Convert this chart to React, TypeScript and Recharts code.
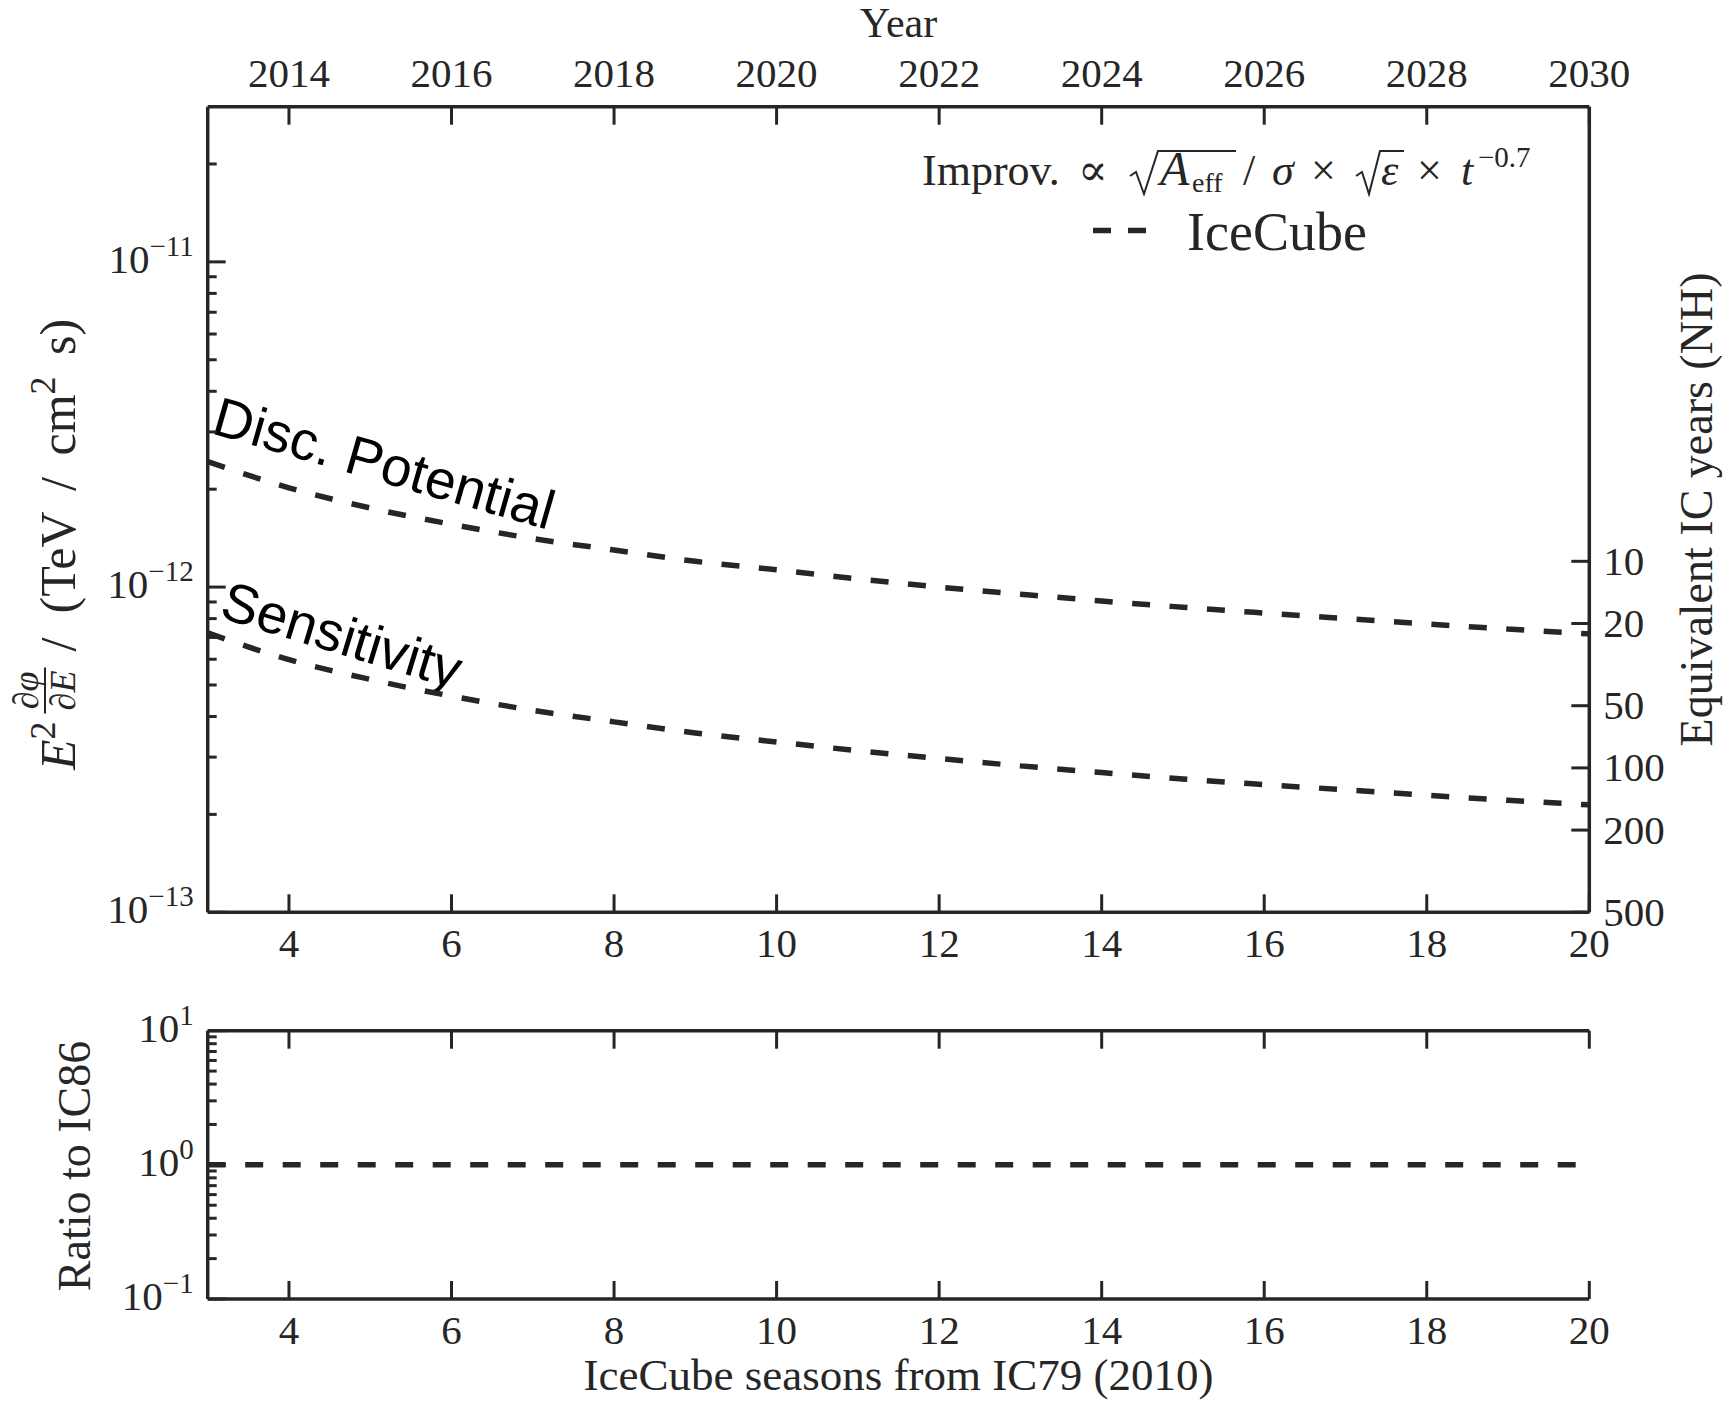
import { LineChart, Line, XAxis, YAxis } from 'recharts'

// IceCube seasons counted from IC79 (2010)
const seasons = [3, 4, 5, 6, 7, 8, 9, 10, 11, 12, 13, 14, 15, 16, 17, 18, 19, 20]
// E^2 dphi/dE in TeV / cm^2 s
const discPotential = [
  2.43e-12, 2.02e-12, 1.75e-12, 1.56e-12, 1.41e-12, 1.3e-12, 1.2e-12, 1.13e-12, 1.06e-12,
  1.0e-12, 9.51e-13, 9.06e-13, 8.67e-13, 8.32e-13, 8.0e-13, 7.7e-13, 7.43e-13, 7.18e-13,
]
const sensitivity = [
  7.23e-13, 5.98e-13, 5.2e-13, 4.62e-13, 4.18e-13, 3.85e-13, 3.56e-13, 3.34e-13, 3.14e-13,
  2.97e-13, 2.82e-13, 2.69e-13, 2.57e-13, 2.47e-13, 2.38e-13, 2.29e-13, 2.21e-13, 2.14e-13,
]
const ratioToIC86 = [1, 1, 1, 1, 1, 1, 1, 1, 1, 1, 1, 1, 1, 1, 1, 1, 1, 1]

const seasonTicks = [4, 6, 8, 10, 12, 14, 16, 18, 20]
const seasonLabels = ['4', '6', '8', '10', '12', '14', '16', '18', '20']
const yearLabels = ['2014', '2016', '2018', '2020', '2022', '2024', '2026', '2028', '2030']
const fluxDecades = [1e-13, 1e-12, 1e-11]
const fluxExponents = ['−13', '−12', '−11']
const ratioDecades = [0.1, 1, 10]
const ratioExponents = ['−1', '0', '1']
const icYearTicks = [10, 20, 50, 100, 200, 500]
const icYearLabels = ['10', '20', '50', '100', '200', '500']
const minorSteps = [2, 3, 4, 5, 6, 7, 8, 9]

const fluxTicks = [
  ...fluxDecades,
  ...fluxDecades.flatMap((d) => minorSteps.map((m) => m * d)).filter((v) => v < 2.5e-11),
]
const ratioTicks = [...ratioDecades, ...[0.1, 1].flatMap((d) => minorSteps.map((m) => m * d))]

const fluxData = seasons.map((season, i) => ({ season, disc: discPotential[i], sens: sensitivity[i] }))
const ratioData = seasons.map((season, i) => ({ season, ratio: ratioToIC86[i] }))

const INK = '#262626'
const SERIF = '"Liberation Serif", "DejaVu Serif", serif'
const SANS = '"Liberation Sans", Arial, sans-serif'
const spine = { stroke: INK, strokeWidth: 3.5 }
const dashed = { stroke: INK, strokeWidth: 5.5, strokeDasharray: '18 19.5' }

type TickProps = { x: number; y: number; payload: { value: number } }

const decadeIndex = (decades: number[], v: number) =>
  decades.findIndex((d) => Math.abs(v / d - 1) < 1e-6)

// inward log ticks, long on decades; optional 10^n label outside
function logTick(decades: number[], exps: string[] | null, side: 'left' | 'right') {
  return ({ x, y, payload }: TickProps) => {
    const i = decadeIndex(decades, payload.value)
    const dir = side === 'left' ? 1 : -1
    return (
      <g>
        <line x1={x} y1={y} x2={x + dir * (i >= 0 ? 18 : 9)} y2={y} stroke={INK} strokeWidth={3} />
        {exps && i >= 0 && (
          <text x={x - 14} y={y + 11} textAnchor="end" fontFamily={SERIF} fontSize={41} fill={INK}>
            10
            <tspan fontSize={29} dy={-17}>
              {exps[i]}
            </tspan>
          </text>
        )}
      </g>
    )
  }
}

function seasonTick(side: 'top' | 'bottom', labels: string[] | null) {
  return ({ x, y, payload }: TickProps) => {
    const i = seasonTicks.indexOf(payload.value)
    const dir = side === 'bottom' ? -1 : 1
    return (
      <g>
        <line x1={x} y1={y} x2={x} y2={y + dir * 18} stroke={INK} strokeWidth={3} />
        {labels && (
          <text
            x={x}
            y={side === 'bottom' ? y + 45 : y - 20}
            textAnchor="middle"
            fontFamily={SERIF}
            fontSize={41}
            fill={INK}
          >
            {labels[i]}
          </text>
        )}
      </g>
    )
  }
}

function IcYearTick({ x, y, payload }: TickProps) {
  const i = icYearTicks.indexOf(payload.value)
  return (
    <g>
      <line x1={x} y1={y} x2={x - 18} y2={y} stroke={INK} strokeWidth={3} />
      <text x={x + 14} y={y + 13.5} fontFamily={SERIF} fontSize={41} fill={INK}>
        {icYearLabels[i]}
      </text>
    </g>
  )
}

function FluxAxisTitle() {
  // rotated frame: u runs up the page, v = 0 is the baseline
  return (
    <g transform="translate(75 513) rotate(-90)" fontFamily={SERIF} fill={INK}>
      <text x={-257} y={0} fontSize={50}>
        <tspan fontStyle="italic">E</tspan>
        <tspan fontSize={36} dy={-20}>
          2
        </tspan>
      </text>
      <text x={-177.5} y={-37} fontSize={36} textAnchor="middle">
        ∂<tspan fontStyle="italic">φ</tspan>
      </text>
      <line x1={-200.5} x2={-154.5} y1={-30} y2={-30} stroke={INK} strokeWidth={2} />
      <text x={-177.5} y={0} fontSize={36} textAnchor="middle">
        ∂<tspan fontStyle="italic">E</tspan>
      </text>
      <text x={-138.5} y={0} fontSize={50}>
        /
      </text>
      <text x={-100.5} y={0} fontSize={50} wordSpacing={9}>
        (TeV / cm
        <tspan fontSize={36} dy={-20}>
          2
        </tspan>
        <tspan dy={20}> s)</tspan>
      </text>
    </g>
  )
}

function LegendBlock() {
  return (
    <g fontFamily={SERIF} fill={INK}>
      <text y={185} fontSize={44}>
        <tspan x={922}>Improv.</tspan>
        <tspan x={1078}>∝</tspan>
        <tspan x={1160} fontSize={48} fontStyle="italic">
          A
        </tspan>
        <tspan x={1192} fontSize={28} dy={7}>
          eff
        </tspan>
        <tspan x={1243} dy={-7}>
          /
        </tspan>
        <tspan x={1272} fontStyle="italic">σ</tspan>
        <tspan x={1311}>×</tspan>
        <tspan x={1381} fontStyle="italic">ε</tspan>
        <tspan x={1417}>×</tspan>
        <tspan x={1461} fontStyle="italic">t</tspan>
        <tspan x={1478} fontSize={29} dy={-18}>
          −0.7
        </tspan>
      </text>
      <path d="M1130 176 L1136 172 L1144 194 L1158 151 L1236 151" fill="none" stroke={INK} strokeWidth={2} />
      <path d="M1356 176 L1362 172 L1369 194 L1380 151 L1404 151" fill="none" stroke={INK} strokeWidth={2} />
      <line x1={1093} x2={1147} y1={230.5} y2={230.5} stroke={INK} strokeWidth={5.5} strokeDasharray="18 17" />
      <text x={1187} y={250} fontSize={54}>
        IceCube
      </text>
    </g>
  )
}

export default function App() {
  return (
    <div style={{ position: 'absolute', left: 0, top: 0, width: 1725, height: 1409, background: '#fff' }}>
      <div style={{ position: 'absolute', left: 0, top: 0 }}>
        <LineChart width={1725} height={1000} data={fluxData} margin={{ top: 46.7, right: 15.7, bottom: 27.7, left: 87.7 }}>
          <XAxis
            xAxisId="seasons"
            dataKey="season"
            type="number"
            domain={[3, 20]}
            ticks={seasonTicks}
            interval={0}
            allowDataOverflow
            height={60}
            tickSize={0}
            tickMargin={0}
            tickLine={false}
            axisLine={spine}
            tick={seasonTick('bottom', seasonLabels)}
          />
          <XAxis
            xAxisId="years"
            orientation="top"
            dataKey="season"
            type="number"
            domain={[3, 20]}
            ticks={seasonTicks}
            interval={0}
            allowDataOverflow
            height={60}
            tickSize={0}
            tickMargin={0}
            tickLine={false}
            axisLine={spine}
            tick={seasonTick('top', yearLabels)}
          />
          <YAxis
            yAxisId="flux"
            scale="log"
            domain={[1e-13, 3e-11]}
            ticks={fluxTicks}
            interval={0}
            allowDataOverflow
            width={120}
            tickSize={0}
            tickMargin={0}
            tickLine={false}
            axisLine={spine}
            tick={logTick(fluxDecades, fluxExponents, 'left')}
          />
          <YAxis
            yAxisId="icYears"
            orientation="right"
            scale="log"
            domain={[0.063, 500]}
            reversed
            ticks={icYearTicks}
            interval={0}
            allowDataOverflow
            width={120}
            tickSize={0}
            tickMargin={0}
            tickLine={false}
            axisLine={spine}
            tick={IcYearTick}
          />
          <Line xAxisId="seasons" yAxisId="flux" dataKey="disc" type="monotone" {...dashed} dot={false} activeDot={false} isAnimationActive={false} />
          <Line xAxisId="seasons" yAxisId="flux" dataKey="sens" type="monotone" {...dashed} dot={false} activeDot={false} isAnimationActive={false} />

          <text x={898.5} y={37} textAnchor="middle" fontFamily={SERIF} fontSize={42} fill={INK}>
            Year
          </text>
          <FluxAxisTitle />
          <text transform="translate(1712 509.5) rotate(-90)" textAnchor="middle" fontFamily={SERIF} fontSize={46} fill={INK}>
            Equivalent IC years (NH)
          </text>
          <text x={210} y={433} transform="rotate(16 210 433)" fontFamily={SANS} fontSize={55} fill="#000">
            Disc. Potential
          </text>
          <text x={218} y={617} transform="rotate(17 218 617)" fontFamily={SANS} fontSize={55} fill="#000">
            Sensitivity
          </text>
          <LegendBlock />
        </LineChart>
      </div>

      <div style={{ position: 'absolute', left: 0, top: 1000 }}>
        <LineChart width={1725} height={409} data={ratioData} margin={{ top: 20.7, right: 135.7, bottom: 50, left: 87.7 }}>
          <XAxis
            xAxisId="seasons"
            dataKey="season"
            type="number"
            domain={[3, 20]}
            ticks={seasonTicks}
            interval={0}
            allowDataOverflow
            height={60}
            tickSize={0}
            tickMargin={0}
            tickLine={false}
            axisLine={spine}
            tick={seasonTick('bottom', seasonLabels)}
          />
          <XAxis
            xAxisId="mirror"
            orientation="top"
            dataKey="season"
            type="number"
            domain={[3, 20]}
            ticks={seasonTicks}
            interval={0}
            allowDataOverflow
            height={10}
            tickSize={0}
            tickMargin={0}
            tickLine={false}
            axisLine={spine}
            tick={seasonTick('top', null)}
          />
          <YAxis
            yAxisId="ratio"
            scale="log"
            domain={[0.1, 10]}
            ticks={ratioTicks}
            interval={0}
            allowDataOverflow
            width={120}
            tickSize={0}
            tickMargin={0}
            tickLine={false}
            axisLine={spine}
            tick={logTick(ratioDecades, ratioExponents, 'left')}
          />
          <YAxis
            yAxisId="ratioMirror"
            orientation="right"
            scale="log"
            domain={[0.1, 10]}
            ticks={ratioTicks}
            interval={0}
            allowDataOverflow
            width={0}
            tickSize={0}
            tickMargin={0}
            tickLine={false}
            axisLine={spine}
            tick={logTick(ratioDecades, null, 'right')}
          />
          <Line xAxisId="seasons" yAxisId="ratio" dataKey="ratio" type="linear" {...dashed} dot={false} activeDot={false} isAnimationActive={false} />

          <text transform="translate(90 166) rotate(-90)" textAnchor="middle" fontFamily={SERIF} fontSize={46} fill={INK}>
            Ratio to IC86
          </text>
          <text x={898.5} y={390} textAnchor="middle" fontFamily={SERIF} fontSize={45} fill={INK}>
            IceCube seasons from IC79 (2010)
          </text>
        </LineChart>
      </div>
    </div>
  )
}
